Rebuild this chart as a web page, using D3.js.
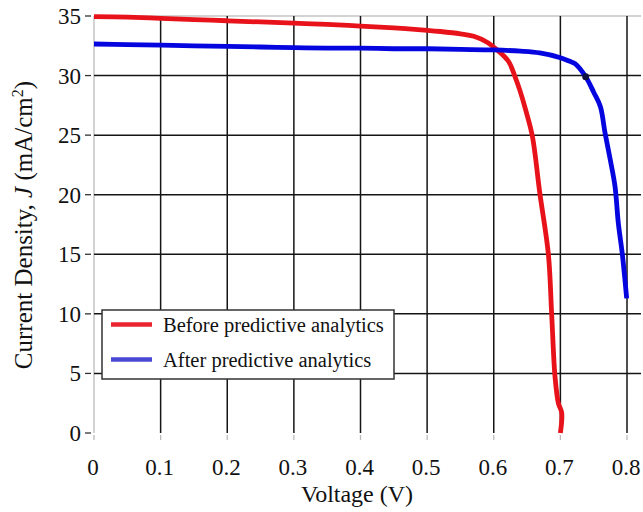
<!DOCTYPE html>
<html>
<head>
<meta charset="utf-8">
<script src="https://cdn.jsdelivr.net/npm/d3@7"></script>
<style>
  body { margin: 0; background: #fff; }
  svg text { font-family: "Liberation Serif", "Times New Roman", serif; fill: #111; }
</style>
</head>
<body>
<svg width="643" height="512"></svg>
<script>
// J-V curves
var voltsBefore = [0, 0.05, 0.1, 0.15, 0.2, 0.25, 0.3, 0.35, 0.4, 0.45, 0.5, 0.52, 0.55, 0.57, 0.59, 0.604, 0.622, 0.632, 0.639, 0.648, 0.658, 0.669, 0.682, 0.687, 0.692, 0.697, 0.702, 0.7];
var jBefore = [34.95, 34.9, 34.8, 34.7, 34.6, 34.5, 34.4, 34.3, 34.15, 34.0, 33.8, 33.7, 33.5, 33.3, 32.8, 32.2, 31.2, 29.9, 28.8, 27.1, 24.9, 20.2, 15.0, 9.9, 4.7, 2.5, 1.7, 0];

var voltsAfter = [0, 0.05, 0.1, 0.15, 0.2, 0.25, 0.3, 0.35, 0.4, 0.45, 0.5, 0.55, 0.6, 0.64, 0.669, 0.7, 0.714, 0.722, 0.738, 0.75, 0.76, 0.767, 0.775, 0.782, 0.787, 0.793, 0.7995];
var jAfter = [32.65, 32.6, 32.55, 32.5, 32.45, 32.4, 32.35, 32.3, 32.3, 32.25, 32.25, 32.2, 32.15, 32.05, 31.9, 31.5, 31.2, 31.0, 29.9, 28.6, 27.4, 25.2, 22.9, 20.7, 17.6, 15.0, 11.3];

var xTicks = [0, 0.1, 0.2, 0.3, 0.4, 0.5, 0.6, 0.7, 0.8];
var yTicks = [0, 5, 10, 15, 20, 25, 30, 35];
var seriesNames = ["Before predictive analytics", "After predictive analytics"];
var seriesColors = ["#e8121b", "#0505e0"];
var markerPoint = [0.738, 29.9];

var svg = d3.select("svg");

var xScale = d3.scaleLinear().domain([0, 0.8]).range([94, 627]);
var yScale = d3.scaleLinear().domain([0, 35]).range([433, 16]);
var xEnd = xScale(0.821);

// left and top border (light grey)
svg.append("line")
  .attr("x1", xScale(0)).attr("x2", xScale(0))
  .attr("y1", yScale(35)).attr("y2", yScale(0))
  .attr("stroke", "#c4c4c4").attr("stroke-width", 1.5);
svg.append("line")
  .attr("x1", xScale(0)).attr("x2", xEnd)
  .attr("y1", yScale(35)).attr("y2", yScale(35))
  .attr("stroke", "#c4c4c4").attr("stroke-width", 1.5);

// grid
svg.selectAll("line.vgrid")
  .data(xTicks.filter(function (d) { return d > 0; }))
  .enter()
  .append("line")
  .attr("class", "vgrid")
  .attr("x1", function (d) { return xScale(d); })
  .attr("x2", function (d) { return xScale(d); })
  .attr("y1", yScale(35))
  .attr("y2", yScale(0))
  .attr("stroke", "#151515")
  .attr("stroke-width", 1.5);

svg.selectAll("line.hgrid")
  .data(yTicks.filter(function (d) { return d > 0 && d < 35; }))
  .enter()
  .append("line")
  .attr("class", "hgrid")
  .attr("x1", xScale(0))
  .attr("x2", xEnd)
  .attr("y1", function (d) { return yScale(d); })
  .attr("y2", function (d) { return yScale(d); })
  .attr("stroke", "#151515")
  .attr("stroke-width", 1.5);

// y ticks + labels
svg.selectAll("line.ytick")
  .data(yTicks)
  .enter()
  .append("line")
  .attr("class", "ytick")
  .attr("x1", 85).attr("x2", 91)
  .attr("y1", function (d) { return yScale(d); })
  .attr("y2", function (d) { return yScale(d); })
  .attr("stroke", "#333")
  .attr("stroke-width", 1.3);

svg.selectAll("text.ylab")
  .data(yTicks)
  .enter()
  .append("text")
  .attr("class", "ylab")
  .attr("x", 81)
  .attr("y", function (d) { return yScale(d) + 8; })
  .attr("text-anchor", "end")
  .style("font-size", "23px")
  .text(function (d) { return d; });

// x ticks + labels
svg.selectAll("line.xtick")
  .data(xTicks)
  .enter()
  .append("line")
  .attr("class", "xtick")
  .attr("x1", function (d) { return xScale(d); })
  .attr("x2", function (d) { return xScale(d); })
  .attr("y1", 435).attr("y2", 440)
  .attr("stroke", "#bbb")
  .attr("stroke-width", 1.3);

svg.selectAll("text.xlab")
  .data(xTicks)
  .enter()
  .append("text")
  .attr("class", "xlab")
  .attr("x", function (d) { return xScale(d) - 1; })
  .attr("y", 475)
  .attr("text-anchor", "middle")
  .style("font-size", "23px")
  .text(function (d) { return d === 0 ? "0" : d3.format(".1f")(d); });

// axis titles
svg.append("text")
  .attr("x", 357)
  .attr("y", 502)
  .attr("text-anchor", "middle")
  .style("font-size", "24px")
  .text("Voltage (V)");

var yTitle = svg.append("text")
  .attr("transform", "translate(32,225) rotate(-90)")
  .attr("text-anchor", "middle")
  .style("font-size", "25px");
yTitle.append("tspan").text("Current Density, ");
yTitle.append("tspan").style("font-style", "italic").text("J");
yTitle.append("tspan").text(" (mA/cm");
yTitle.append("tspan").attr("dy", -9).style("font-size", "16px").text("2");
yTitle.append("tspan").attr("dy", 9).text(")");

// curves
var line = d3.line()
  .x(function (d) { return xScale(d[0]); })
  .y(function (d) { return yScale(d[1]); })
  .curve(d3.curveCatmullRom.alpha(0.5));

var before = d3.zip(voltsBefore, jBefore);
var after = d3.zip(voltsAfter, jAfter);

svg.append("path")
  .datum(before)
  .attr("d", line)
  .attr("fill", "none")
  .attr("stroke", seriesColors[0])
  .attr("stroke-width", 4.8)
  .attr("stroke-linejoin", "round");

svg.append("path")
  .datum(after)
  .attr("d", line)
  .attr("fill", "none")
  .attr("stroke", seriesColors[1])
  .attr("stroke-width", 4.8)
  .attr("stroke-linejoin", "round");

svg.append("circle")
  .attr("cx", xScale(markerPoint[0]))
  .attr("cy", yScale(markerPoint[1]))
  .attr("r", 3.5)
  .attr("fill", "#101040");

// legend
var legend = svg.append("g");
legend.append("rect")
  .attr("x", 102).attr("y", 310)
  .attr("width", 292).attr("height", 69)
  .attr("fill", "#fff")
  .attr("stroke", "#333")
  .attr("stroke-width", 1.5);

seriesNames.forEach(function (name, i) {
  var yy = 324.5 + i * 35;
  legend.append("line")
    .attr("x1", 111).attr("x2", 152)
    .attr("y1", yy).attr("y2", yy)
    .attr("stroke", i === 0 ? "#ea2530" : "#4848d4")
    .attr("stroke-width", 4.5);
  legend.append("text")
    .attr("x", 163)
    .attr("y", yy + 7)
    .style("font-size", "20.5px")
    .text(name);
});
</script>
</body>
</html>
